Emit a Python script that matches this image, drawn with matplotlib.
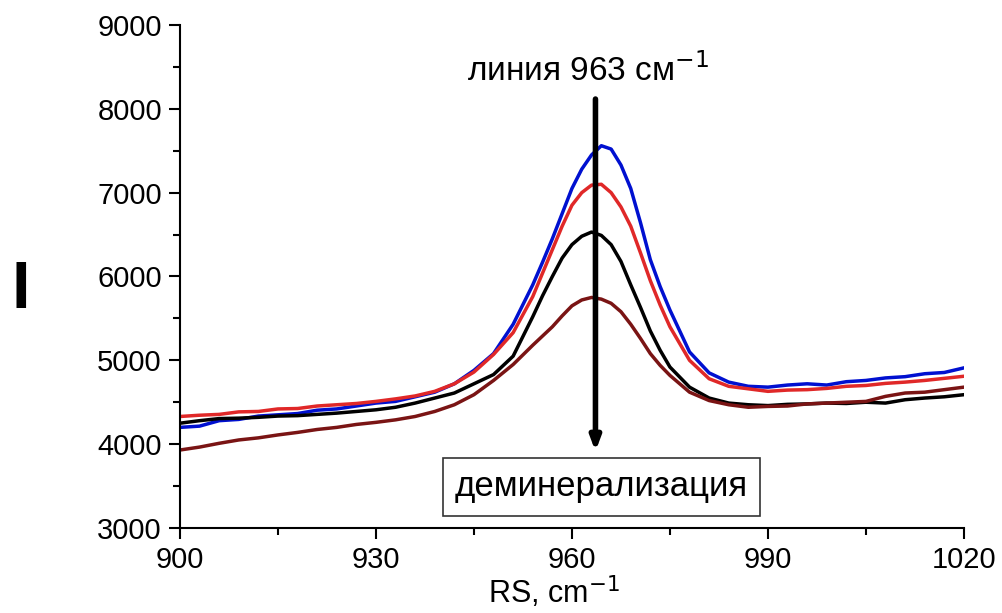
import matplotlib.pyplot as plt
from matplotlib.ticker import MultipleLocator

plt.rcParams['font.family'] = ['Liberation Sans', 'DejaVu Sans']

# Raman shift, cm-1 (denser around the 963 peak)
shift = [900, 903, 906, 909, 912, 915, 918, 921, 924, 927, 930, 933, 936,
         939, 942, 945, 948, 951, 954, 955.5, 957, 958.5, 960, 961.5, 963,
         964.5, 966, 967.5, 969, 970.5, 972, 973.5, 975, 978, 981, 984, 987,
         990, 993, 996, 999, 1002, 1005, 1008, 1011, 1014, 1017, 1020]

# intensities
blue = [4200, 4215, 4280, 4295, 4335, 4350, 4365, 4405, 4420, 4455, 4490,
        4510, 4565, 4620, 4720, 4880, 5080, 5430, 5900, 6170, 6450, 6750,
        7050, 7280, 7450, 7560, 7520, 7330, 7050, 6640, 6200, 5880, 5600,
        5100, 4850, 4740, 4690, 4680, 4705, 4720, 4705, 4745, 4760, 4790,
        4805, 4840, 4855, 4910]
red = [4330, 4345, 4355, 4385, 4390, 4420, 4425, 4455, 4470, 4485, 4510,
       4540, 4575, 4630, 4720, 4860, 5070, 5330, 5760, 6040, 6320, 6600,
       6850, 7000, 7090, 7100, 7000, 6830, 6600, 6280, 5950, 5660, 5400,
       5000, 4780, 4690, 4660, 4630, 4645, 4650, 4665, 4690, 4700, 4725,
       4740, 4760, 4785, 4810]
black = [4250, 4280, 4305, 4310, 4320, 4335, 4340, 4355, 4370, 4390, 4410,
         4440, 4490, 4550, 4610, 4720, 4830, 5050, 5520, 5770, 6000, 6220,
         6380, 6480, 6530, 6490, 6380, 6180, 5900, 5630, 5350, 5120, 4920,
         4680, 4550, 4490, 4470, 4460, 4475, 4480, 4490, 4485, 4500, 4490,
         4530, 4550, 4565, 4590]
maroon = [3930, 3965, 4010, 4050, 4075, 4110, 4140, 4175, 4200, 4235, 4260,
          4290, 4330, 4390, 4470, 4590, 4760, 4950, 5180, 5290, 5400, 5530,
          5650, 5720, 5750, 5730, 5680, 5580, 5430, 5260, 5080, 4940, 4820,
          4620, 4520, 4470, 4440, 4450, 4455, 4480, 4490, 4500, 4510, 4570,
          4610, 4620, 4650, 4680]

fig = plt.figure(figsize=(10.02, 6.13), dpi=100)
ax = fig.add_axes([0.1796, 0.1387, 0.7824, 0.8205])

ax.plot(shift, blue, color='#0010d0', lw=2.5)
ax.plot(shift, red, color='#e02828', lw=2.5)
ax.plot(shift, black, color='black', lw=2.5)
ax.plot(shift, maroon, color='#7a1414', lw=2.5)

ax.set_xlim(900, 1020)
ax.set_ylim(3000, 9000)
ax.xaxis.set_major_locator(MultipleLocator(30))
ax.xaxis.set_minor_locator(MultipleLocator(15))
ax.yaxis.set_major_locator(MultipleLocator(1000))
ax.yaxis.set_minor_locator(MultipleLocator(500))
ax.tick_params(which='major', direction='out', length=8, width=1.5,
               labelsize=21, pad=5)
ax.tick_params(which='minor', direction='out', length=5, width=1.5)
for side in ('top', 'right'):
    ax.spines[side].set_visible(False)
for side in ('left', 'bottom'):
    ax.spines[side].set_linewidth(1.5)

fig.text(0.553, 0.004, 'RS, cm$^{-1}$', fontsize=22, ha='center',
         va='bottom')
fig.text(0.011, 0.525, 'I', fontsize=48, fontweight='bold', va='center')

# arrow through the 963 line
ax.annotate('', xy=(963.6, 3880), xytext=(963.6, 8150),
            arrowprops=dict(arrowstyle='-|>,head_width=0.3,head_length=0.8',
                            lw=4, color='black'))
ax.text(962.5, 8460, 'линия 963 см$^{-1}$', fontsize=24, ha='center',
        va='center')
ax.text(964.5, 3490, 'деминерализация', fontsize=25, ha='center',
        va='center',
        bbox=dict(boxstyle='square,pad=0.35', fc='white', ec='#333333',
                  lw=1.2))

fig.savefig('out.png', dpi=100)
